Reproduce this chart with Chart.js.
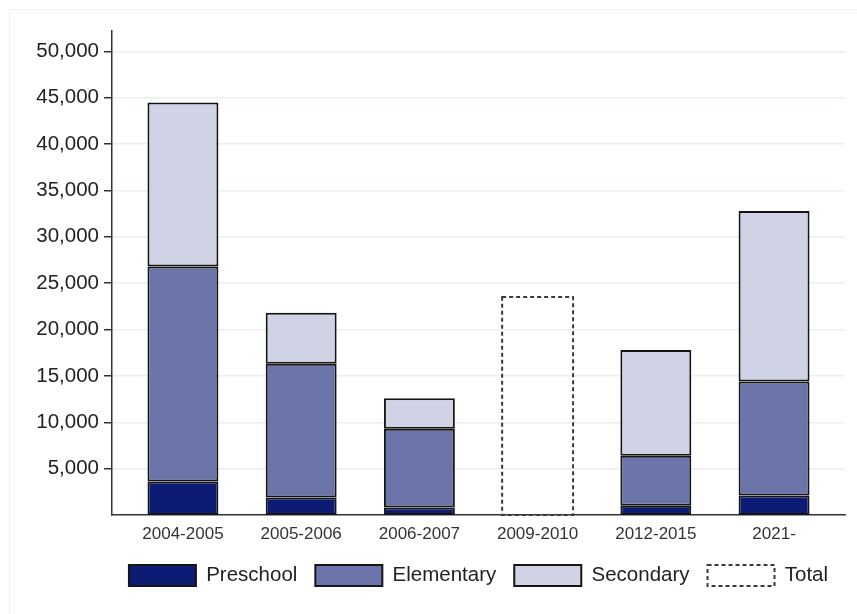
<!DOCTYPE html>
<html>
<head>
<meta charset="utf-8">
<script src="https://cdn.jsdelivr.net/npm/chart.js@4.4.1/dist/chart.umd.min.js"></script>
<style>
  html, body { margin: 0; padding: 0; background: #ffffff; overflow: hidden; }
  #frame { position: absolute; left: 9px; top: 9px; width: 1000px; height: 1000px;
           border-top: 1px solid #eef2f4; border-left: 1px solid #eef2f4; }
  #wrap { position: absolute; left: 0; top: 0; width: 857px; height: 614px; }
</style>
</head>
<body>
<div id="frame"></div>
<div id="wrap"><canvas id="c" width="857" height="614"></canvas></div>
<script>
const categories = ['2004-2005', '2005-2006', '2006-2007', '2009-2010', '2012-2015', '2021-'];
const preschool  = [3600, 1900, 800, null, 1000, 2100];
const elementary = [23200, 14400, 8500, null, 5400, 12300];
const secondary  = [17700, 5500, 3300, null, 11400, 18400];
const total      = [null, null, null, 23500, null, null];
const yTicks = [5000, 10000, 15000, 20000, 25000, 30000, 35000, 40000, 45000, 50000];

const FONT = "'Liberation Sans', Arial, sans-serif";
const toXY = arr => arr.map((v, i) => ({ x: i, y: v }));

const dashedTotal = {
  id: 'dashedTotal',
  afterLayout(chart) {
    // center the legend under the plot area (not the canvas), like the reference
    if (chart.legend) {
      const ca = chart.chartArea;
      const slack = 60;
      chart.legend.left = ca.left - slack;
      chart.legend.right = ca.right + slack;
      chart.legend.width = chart.legend.right - chart.legend.left;
    }
  },
  afterDatasetsDraw(chart) {
    const idx = chart.data.datasets.findIndex(d => d.label === 'Total');
    const meta = chart.getDatasetMeta(idx);
    if (!meta || meta.hidden) return;
    const ctx = chart.ctx;
    ctx.save();
    ctx.setLineDash([4, 3]);
    ctx.lineWidth = 2;
    ctx.strokeStyle = '#3a3a3a';
    meta.data.forEach((el, i) => {
      if (total[i] === null) return;
      const p = el.getProps(['x', 'y', 'base', 'width'], true);
      ctx.strokeRect(p.x - p.width / 2, p.y, p.width, p.base - p.y);
    });
    ctx.restore();
  }
};

const common = { borderColor: '#151515', borderWidth: 2, borderSkipped: false,
                 barPercentage: 0.6, categoryPercentage: 1.0 };

new Chart(document.getElementById('c'), {
  type: 'bar',
  data: {
    datasets: [
      Object.assign({ label: 'Preschool', data: toXY(preschool), backgroundColor: '#0c1c74' }, common),
      Object.assign({ label: 'Elementary', data: toXY(elementary), backgroundColor: '#6b75a9' }, common),
      Object.assign({ label: 'Secondary', data: toXY(secondary), backgroundColor: '#cfd3e5' }, common),
      { label: 'Total', data: toXY(total), backgroundColor: 'rgba(0,0,0,0)', borderWidth: 0,
        borderColor: '#3a3a3a', barPercentage: 0.6, categoryPercentage: 1.0 }
    ]
  },
  options: {
    responsive: false,
    animation: false,
    devicePixelRatio: 1,
    layout: { padding: { left: 0, right: 12, top: 31, bottom: 18 } },
    scales: {
      x: {
        type: 'linear',
        stacked: true,
        offset: false,
        min: -0.6,
        max: 5.6,
        afterBuildTicks: s => { s.ticks = categories.map((c, i) => ({ value: i })); },
        afterFit: s => { s.height = 32; },
        grid: { display: false, drawTicks: false, offset: false },
        border: { display: true, color: '#333333', width: 1.5 },
        ticks: {
          padding: 9,
          color: '#333333',
          font: { family: FONT, size: 17 },
          callback: v => categories[v],
          autoSkip: false,
          maxRotation: 0
        }
      },
      y: {
        stacked: true,
        min: 0,
        max: 52200,
        afterBuildTicks: s => { s.ticks = yTicks.map(v => ({ value: v })); },
        afterFit: s => { s.width = 112; },
        grid: { color: '#e7eff1', lineWidth: 1.5, tickColor: '#333333', tickLength: 8, drawTicks: true },
        border: { display: true, color: '#333333', width: 1.5 },
        ticks: {
          padding: 5,
          color: '#222222',
          font: { family: FONT, size: 20.5 },
          callback: v => v.toLocaleString('en-US')
        }
      }
    },
    plugins: {
      tooltip: { enabled: false },
      legend: {
        position: 'bottom',
        labels: {
          boxWidth: 67,
          boxHeight: 21,
          padding: 18,
          color: '#222222',
          font: { family: FONT, size: 20.5 },
          generateLabels(chart) {
            const items = Chart.defaults.plugins.legend.labels.generateLabels(chart);
            items.forEach(it => {
              if (it.text === 'Total') {
                it.fillStyle = '#ffffff';
                it.strokeStyle = '#3a3a3a';
                it.lineWidth = 2;
                it.lineDash = [4, 3];
              } else {
                it.lineWidth = 2;
                it.strokeStyle = '#151515';
                it.lineDash = [];
              }
            });
            return items;
          }
        }
      }
    }
  },
  plugins: [dashedTotal]
});
</script>
</body>
</html>
